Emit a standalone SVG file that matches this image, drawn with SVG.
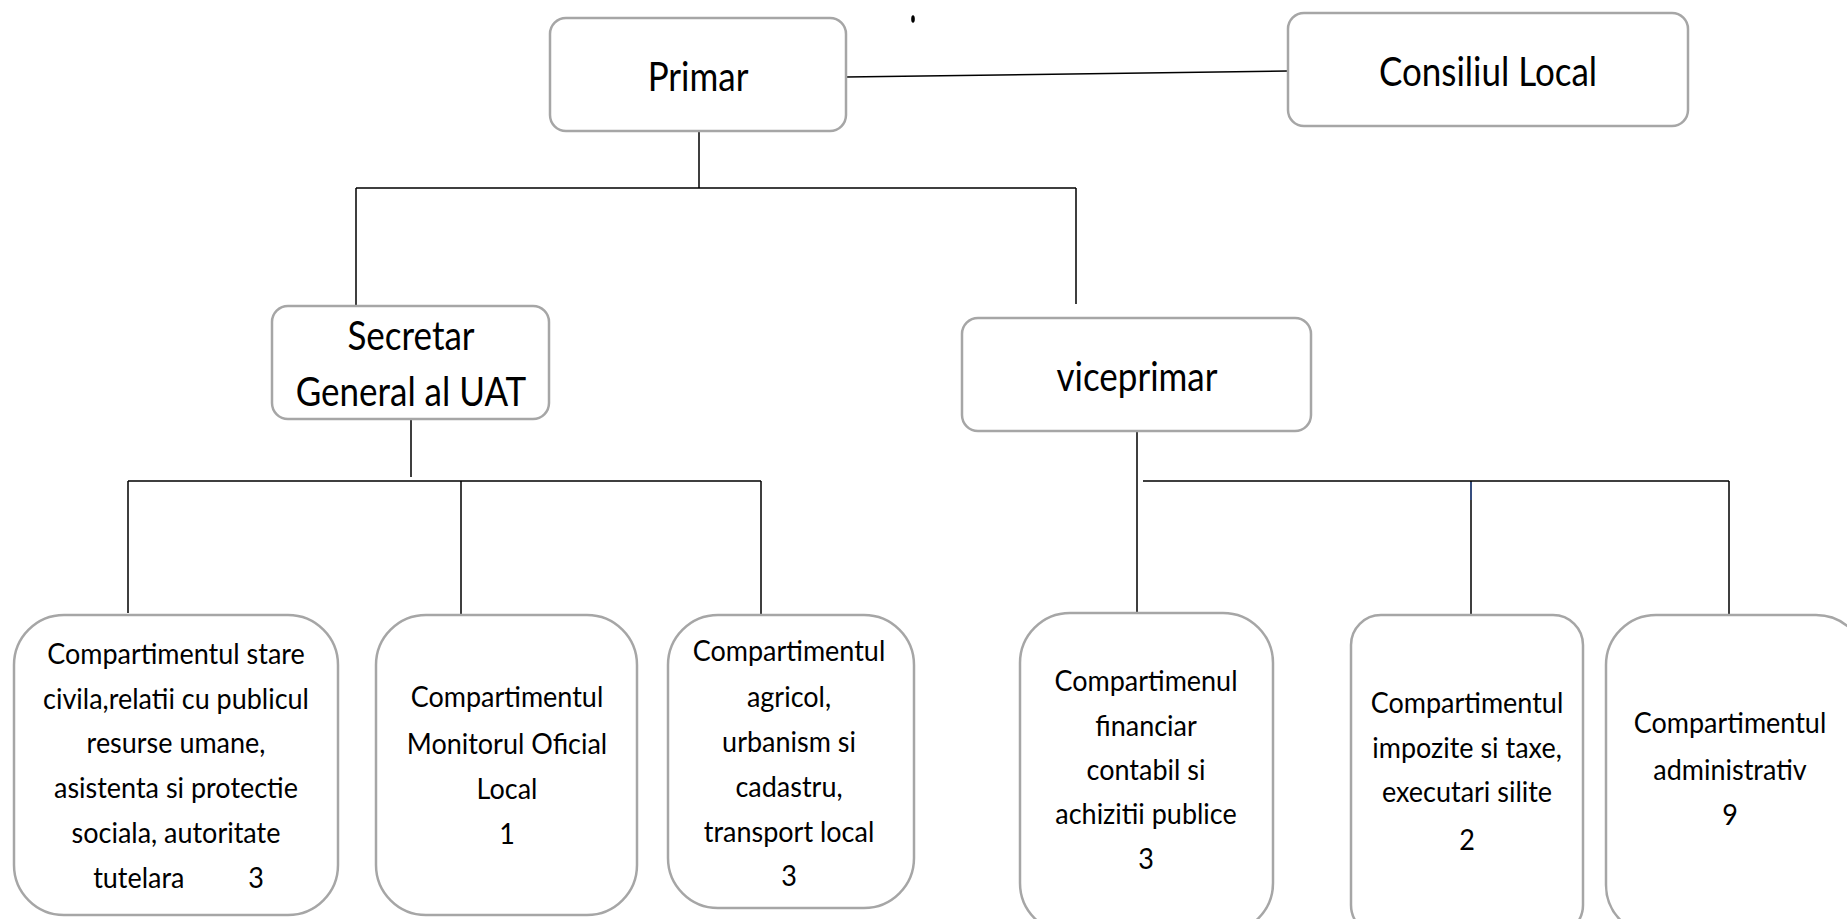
<svg xmlns="http://www.w3.org/2000/svg" width="1847" height="919" viewBox="0 0 1847 919">
<style>
.box{fill:#fff;stroke:#a6a6a6;stroke-width:2.5}
.t{font-family:Lato,"Open Sans",sans-serif;fill:#000;text-anchor:middle}
.big{font-size:40px}
.sm{font-size:29px}
.c{stroke:#000;stroke-width:1.5;fill:none}
</style>
<rect width="1847" height="919" fill="#fff"/>
<g id="connectors">
<path class="c" d="M846,77 L1288,71"/>
<path class="c" d="M699,131 V188 M356,188 H1076 M356,188 V306 M1076,188 V304"/>
<path class="c" d="M411,419 V477 M128,481 H761 M128,481 V613 M461,481 V615 M761,481 V615"/>
<path class="c" d="M1137,431 V628 M1143,481 H1729 M1471,481 V628 M1729,481 V628"/>
<path d="M1471,482 V500" stroke="#2f5fbf" stroke-width="1"/>
<ellipse cx="913" cy="19" rx="1.8" ry="3.8" fill="#000"/>
</g>
<g id="primar">
<rect class="box" x="550" y="18" width="296" height="113" rx="16"/>
<text class="t big" transform="translate(698 0) scale(0.875 1)" x="0" y="91">Primar</text>
</g>
<g id="consiliul">
<rect class="box" x="1288" y="13" width="400" height="113" rx="16"/>
<text class="t big" transform="translate(1488 0) scale(0.875 1)" x="0" y="86">Consiliul Local</text>
</g>
<g id="secretar">
<rect class="box" x="272" y="306" width="277" height="113" rx="16"/>
<g transform="translate(411 0) scale(0.875 1)">
<text class="t big" x="0" y="350">Secretar</text>
<text class="t big" x="0" y="406">General al UAT</text>
</g>
</g>
<g id="viceprimar">
<rect class="box" x="962" y="318" width="349" height="113" rx="16"/>
<text class="t big" transform="translate(1137 0) scale(0.875 1)" x="0" y="391">viceprimar</text>
</g>
<g id="stare-civila">
<rect class="box" x="14" y="615" width="324" height="300" rx="50"/>
<g transform="translate(176 0) scale(0.93 1)">
<text class="t sm" x="0" y="664">Compartimentul stare</text>
<text class="t sm" x="0" y="709">civila,relatii cu publicul</text>
<text class="t sm" x="0" y="753">resurse umane,</text>
<text class="t sm" x="0" y="798">asistenta si protectie</text>
<text class="t sm" x="0" y="843">sociala, autoritate</text>
<text class="t sm" y="888"><tspan x="-40">tutelara</tspan><tspan x="86">3</tspan></text>
</g>
</g>
<g id="monitorul">
<rect class="box" x="376" y="615" width="261" height="300" rx="50"/>
<g transform="translate(507 0) scale(0.93 1)">
<text class="t sm" x="0" y="707">Compartimentul</text>
<text class="t sm" x="0" y="754">Monitorul Oficial</text>
<text class="t sm" x="0" y="799">Local</text>
<text class="t sm" x="0" y="844">1</text>
</g>
</g>
<g id="agricol">
<rect class="box" x="668" y="615" width="246" height="293" rx="50"/>
<g transform="translate(789 0) scale(0.93 1)">
<text class="t sm" x="0" y="661">Compartimentul</text>
<text class="t sm" x="0" y="707">agricol,</text>
<text class="t sm" x="0" y="752">urbanism si</text>
<text class="t sm" x="0" y="797">cadastru,</text>
<text class="t sm" x="0" y="842">transport local</text>
<text class="t sm" x="0" y="886">3</text>
</g>
</g>
<g id="financiar">
<rect class="box" x="1020" y="613" width="253" height="320" rx="50"/>
<g transform="translate(1146 0) scale(0.93 1)">
<text class="t sm" x="0" y="691">Compartimenul</text>
<text class="t sm" x="0" y="736">financiar</text>
<text class="t sm" x="0" y="780">contabil si</text>
<text class="t sm" x="0" y="824">achizitii publice</text>
<text class="t sm" x="0" y="869">3</text>
</g>
</g>
<g id="impozite">
<rect class="box" x="1351" y="615" width="232" height="320" rx="30"/>
<g transform="translate(1467 0) scale(0.93 1)">
<text class="t sm" x="0" y="713">Compartimentul</text>
<text class="t sm" x="0" y="758">impozite si taxe,</text>
<text class="t sm" x="0" y="802">executari silite</text>
<text class="t sm" x="0" y="850">2</text>
</g>
</g>
<g id="administrativ">
<rect class="box" x="1606" y="615" width="260" height="320" rx="50"/>
<g transform="translate(1730 0) scale(0.93 1)">
<text class="t sm" x="0" y="733">Compartimentul</text>
<text class="t sm" x="0" y="780">administrativ</text>
<text class="t sm" x="0" y="825">9</text>
</g>
</g>
</svg>
